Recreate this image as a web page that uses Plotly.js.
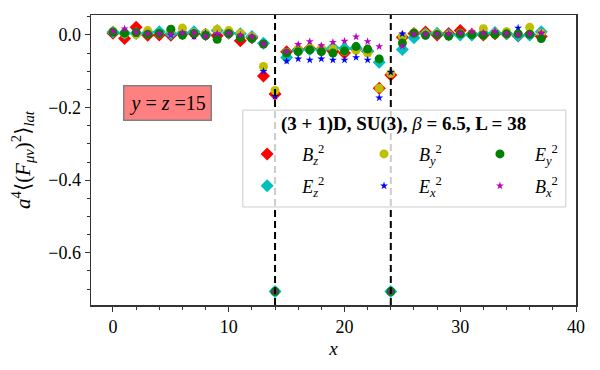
<!DOCTYPE html>
<html>
<head>
<meta charset="utf-8">
<script src="https://cdn.plot.ly/plotly-3.0.1.min.js"></script>
<style>
  html, body { margin: 0; padding: 0; background: #fff; }
  #plot { width: 600px; height: 370px; }
</style>
</head>
<body>
<div id="plot"></div>
<script>
// lattice sites along x
var sites = [0, 1, 2, 3, 4, 5, 6, 7, 8, 9, 10, 11, 12, 13, 14, 15, 16, 17, 18,
             19, 20, 21, 22, 23, 24, 25, 26, 27, 28, 29, 30, 31, 32, 33, 34, 35, 36, 37];

// field components a^4 <(F_mu nu)^2>_lat
var Bz2 = [0.005, -0.010, 0.021, -0.001, 0.000, -0.001, 0.003, 0.004, 0.001, -0.002,
           0.005, -0.016, -0.008, -0.113, -0.163, -0.046, -0.041, -0.037, -0.040, -0.045,
           -0.050, -0.038, -0.045, -0.147, -0.110, -0.006, 0.004, 0.008, 0.000, 0.004,
           0.012, 0.002, 0.000, 0.003, 0.003, -0.003, 0.001, -0.004];
var Ez2 = [0.008, 0.005, 0.004, 0.006, 0.009, 0.003, 0.005, 0.009, 0.001, 0.012,
           0.006, 0.003, -0.004, -0.023, -0.707, -0.062, -0.042, -0.040, -0.040, -0.035,
           -0.037, -0.036, -0.045, -0.075, -0.707, -0.040, -0.008, 0.003, 0.005, 0.000,
           0.000, 0.000, 0.004, 0.007, 0.004, -0.002, 0.000, 0.009];
var By2 = [0.010, 0.003, 0.001, 0.012, 0.003, 0.010, 0.019, 0.006, 0.005, 0.015,
           0.012, 0.004, -0.005, -0.087, -0.153, -0.048, -0.040, -0.037, -0.038, -0.039,
           -0.045, -0.042, -0.050, -0.147, -0.106, -0.004, 0.006, 0.003, 0.004, 0.000,
           0.005, 0.003, 0.017, 0.005, 0.009, 0.003, 0.021, 0.005];
var Ex2 = [0.005, 0.004, 0.003, 0.002, 0.002, 0.000, 0.002, -0.004, 0.005, 0.000,
           0.001, -0.002, -0.006, -0.100, -0.169, -0.072, -0.066, -0.069, -0.066, -0.069,
           -0.069, -0.062, -0.069, -0.173, -0.103, 0.003, 0.004, 0.002, 0.002, -0.004,
           0.003, 0.002, -0.002, 0.004, 0.003, 0.019, 0.003, 0.004];
var Ey2 = [0.008, 0.005, 0.007, 0.002, 0.004, 0.016, 0.000, 0.004, -0.002, -0.012,
           0.004, -0.008, -0.010, -0.025, -0.707, -0.050, -0.046, -0.041, -0.046, -0.050,
           -0.044, -0.032, -0.039, -0.066, -0.707, -0.022, 0.005, -0.001, 0.001, -0.003,
           0.003, 0.001, 0.000, 0.002, 0.003, 0.003, 0.002, -0.010];
var Bx2 = [0.010, 0.017, 0.007, 0.004, 0.003, 0.001, 0.006, 0.006, -0.004, 0.004,
           0.005, 0.000, -0.004, -0.025, -0.707, -0.046, -0.026, -0.018, -0.029, -0.020,
           -0.017, -0.005, -0.018, -0.032, -0.707, -0.031, 0.002, 0.002, 0.002, 0.003,
           0.005, 0.009, 0.006, 0.010, 0.004, 0.001, 0.003, 0.006];

// wall positions (dashed lines)
var walls = [14, 24];

var xTicks = [0, 10, 20, 30, 40];
var yTicks = [0, -0.2, -0.4, -0.6];

var serif = "Liberation Serif, DejaVu Serif, serif";

function series(y, name, symbol, size, color, legendId) {
    return {
        x: sites,
        y: y,
        name: name,
        mode: "markers",
        type: "scatter",
        legend: legendId,
        marker: { symbol: symbol, size: size, color: color, line: { width: 0 } }
    };
}

// same order as the original legend (column by column)
var data = [
    series(Bz2, "<i>B</i><sub><i>z</i></sub><sup>2</sup>", "diamond", 10, "#ff0000", "legend"),
    series(Ez2, "<i>E</i><sub><i>z</i></sub><sup>2</sup>", "diamond", 10, "#00bfbf", "legend2"),
    series(By2, "<i>B</i><sub><i>y</i></sub><sup>2</sup>", "circle", 9, "#bfbf00", "legend3"),
    series(Ex2, "<i>E</i><sub><i>x</i></sub><sup>2</sup>", "star", 6, "#0000ff", "legend4"),
    series(Ey2, "<i>E</i><sub><i>y</i></sub><sup>2</sup>", "circle", 9, "#008000", "legend5"),
    series(Bx2, "<i>B</i><sub><i>x</i></sub><sup>2</sup>", "star", 6, "#bf00bf", "legend6")
];

// one small legend per entry so the 3 x 2 grid can be placed freely
function legendAt(x, y) {
    return {
        x: x, y: y, xanchor: "left", yanchor: "middle",
        bgcolor: "rgba(0,0,0,0)", borderwidth: 0,
        font: { family: serif, size: 18, color: "#000" },
        itemwidth: 60
    };
}

var shapes = walls.map(function(w) {
    return {
        type: "line", xref: "x", yref: "paper", x0: w, x1: w, y0: 0, y1: 1,
        line: { color: "#000", width: 2, dash: "7px,4px" }
    };
});
// legend frame
shapes.push({
    type: "rect", xref: "paper", yref: "paper",
    x0: 0.313, x1: 0.979, y0: 0.338, y1: 0.672,
    line: { color: "#cccccc", width: 1 },
    fillcolor: "rgba(255,255,255,0.8)"
});

var layout = {
    width: 600,
    height: 370,
    margin: { l: 91, r: 24, t: 15, b: 65 },
    paper_bgcolor: "#fff",
    plot_bgcolor: "#fff",
    font: { family: serif, size: 17, color: "#000" },
    showlegend: true,
    xaxis: {
        range: [-1.9, 40],
        tickvals: xTicks,
        ticks: "outside", ticklen: 5, tickwidth: 1, tickcolor: "#333",
        showline: true, linecolor: "#333", linewidth: 1.5, mirror: true,
        showgrid: false, zeroline: false,
        minor: { dtick: 2, tick0: 0, ticks: "outside", ticklen: 3, tickcolor: "#333", showgrid: false },
        tickfont: { family: serif, size: 18 },
        title: { text: "<i>x</i>", font: { family: serif, size: 19 }, standoff: 5 }
    },
    yaxis: {
        range: [-0.744, 0.055],
        tickvals: yTicks,
        tickformat: ".1f",
        ticks: "outside", ticklen: 5, tickwidth: 1, tickcolor: "#333",
        showline: true, linecolor: "#333", linewidth: 1.5, mirror: true,
        showgrid: false, zeroline: false,
        minor: { dtick: 0.05, tick0: 0, ticks: "outside", ticklen: 3, tickcolor: "#333", showgrid: false },
        tickfont: { family: serif, size: 18 },
        title: {
            text: "<i>a</i><sup>4</sup>⟨(<i>F</i><sub><i>μν</i></sub>)<sup>2</sup>⟩<sub><i>lat</i></sub>",
            font: { family: serif, size: 21 }, standoff: 12
        }
    },
    legend: legendAt(0.291, 0.52),
    legend2: legendAt(0.291, 0.41),
    legend3: legendAt(0.532, 0.52),
    legend4: legendAt(0.532, 0.41),
    legend5: legendAt(0.771, 0.52),
    legend6: legendAt(0.771, 0.41),
    shapes: shapes,
    annotations: [
        {
            xref: "paper", yref: "paper", x: 0.157, y: 0.697,
            xanchor: "center", yanchor: "middle", showarrow: false,
            text: "<i>y</i> = <i>z</i> =15",
            font: { family: serif, size: 20, color: "#000" },
            bgcolor: "#ff8080", bordercolor: "#808080", borderwidth: 1.5, borderpad: 5
        },
        {
            xref: "paper", yref: "paper", x: 0.645, y: 0.624,
            xanchor: "center", yanchor: "middle", showarrow: false,
            text: "<b>(3 + 1)D, SU(3),</b> <i>β</i> <b>= 6.5, L = 38</b>",
            font: { family: serif, size: 19, color: "#000" }
        }
    ]
};

Plotly.newPlot("plot", data, layout, { displayModeBar: false, staticPlot: true });
</script>
</body>
</html>
